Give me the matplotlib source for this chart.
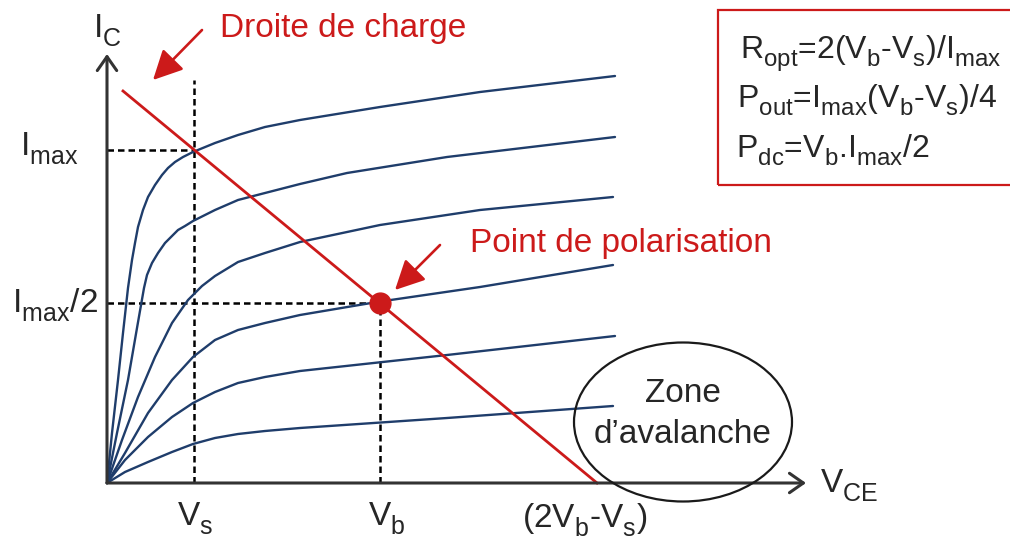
import matplotlib
matplotlib.use("Agg")
import matplotlib.pyplot as plt
import matplotlib._mathtext as _mt
from matplotlib.patches import Ellipse, Rectangle, FancyArrowPatch

_mt.SHRINK_FACTOR = 0.75
_mt.FontConstantsBase.sub1 = 0.5

plt.rcParams['font.family'] = ['Liberation Sans', 'DejaVu Sans']
plt.rcParams['mathtext.fontset'] = 'custom'
plt.rcParams['mathtext.rm'] = 'Liberation Sans'
plt.rcParams['mathtext.it'] = 'Liberation Sans:italic'
plt.rcParams['mathtext.bf'] = 'Liberation Sans:bold'

# ---- data (diagram units: origin at the axes corner) ----
V_s = 87
V_b = 273
V_end = 490          # (2Vb - Vs) point on axis
I_max = 333
I_half = 180
load_start = (16, 392)

curve1_x = [0, 5, 11, 16, 21, 25, 28, 31, 36, 41, 48, 55, 61, 68, 76, 86, 108, 131, 158, 193, 273, 373, 508]
curve1_y = [0, 50, 103, 150, 195, 223, 240, 256, 273, 286, 298, 308, 315, 321, 326, 331, 340, 348, 356, 363, 376, 391, 407]
curve2_x = [0, 10, 21, 30, 37, 40, 45, 51, 58, 65, 71, 78, 86, 108, 131, 158, 193, 240, 340, 508]
curve2_y = [0, 50, 103, 155, 195, 208, 220, 230, 240, 247, 253, 257, 262, 273, 283, 290, 299, 310, 326, 346]
curve3_x = [0, 15, 31, 48, 65, 81, 95, 108, 131, 158, 193, 273, 373, 506]
curve3_y = [0, 43, 86, 126, 160, 183, 197, 207, 221, 230, 241, 258, 273, 286]
curve4_x = [0, 18, 41, 65, 86, 108, 131, 158, 193, 270, 373, 506]
curve4_y = [0, 30, 70, 103, 126, 143, 153, 160, 168, 181, 196, 218]
curve5_x = [0, 18, 41, 65, 86, 108, 131, 158, 193, 340, 508]
curve5_y = [0, 23, 46, 66, 80, 91, 100, 106, 112, 128, 147]
curve6_x = [0, 18, 41, 65, 86, 108, 131, 158, 193, 340, 506]
curve6_y = [0, 11, 21, 31, 39, 45, 49, 52, 55, 65, 77]
curves = [(curve1_x, curve1_y), (curve2_x, curve2_y), (curve3_x, curve3_y),
          (curve4_x, curve4_y), (curve5_x, curve5_y), (curve6_x, curve6_y)]

BLUE = '#1f3d6b'
RED = '#cc1a1a'
DARK = '#262626'
AXC = '#333333'
FS = 24
FS_EQ = 23

fig = plt.figure(figsize=(10.10, 5.36), dpi=100)
ax = fig.add_axes([0, 0, 1, 1])
ax.set_xlim(-107, 903)
ax.set_ylim(-53, 483)
ax.axis('off')

# characteristic curves
for cx, cy in curves:
    ax.plot(cx, cy, color=BLUE, lw=1.7, solid_capstyle='round', solid_joinstyle='round', zorder=3)

# dashed guides
dash = dict(color='black', lw=1.8, ls=(0, (2.6, 1.6)), zorder=2)
ax.plot([0, V_s], [I_max, I_max], **dash)
ax.plot([V_s, V_s], [0, 403], **dash)
ax.plot([0, V_b], [I_half, I_half], **dash)
ax.plot([V_b, V_b], [0, I_half], **dash)

# load line
ax.plot([load_start[0], V_end], [load_start[1], 0], color=RED, lw=2.0, zorder=4)
ax.plot([V_b], [I_half], 'o', color=RED, ms=15, zorder=5)

# axes with open arrowheads
ax.add_patch(FancyArrowPatch((0, 0), (0, 429), arrowstyle='->,head_length=0.5,head_width=0.35',
                             mutation_scale=20, color=AXC, lw=2.2, zorder=6, shrinkA=0, shrinkB=0))
ax.add_patch(FancyArrowPatch((0, 0), (699, 0), arrowstyle='->,head_length=0.5,head_width=0.35',
                             mutation_scale=20, color=AXC, lw=2.2, zorder=6, shrinkA=0, shrinkB=0))

# red arrows
ax.add_patch(FancyArrowPatch((95, 453), (46, 403), arrowstyle='-|>,head_length=0.9,head_width=0.45',
                             mutation_scale=20, color=RED, lw=1.9, shrinkA=0, shrinkB=0))
ax.add_patch(FancyArrowPatch((333, 238), (288, 193), arrowstyle='-|>,head_length=0.9,head_width=0.45',
                             mutation_scale=20, color=RED, lw=1.9, shrinkA=0, shrinkB=0))

# ellipse
ax.add_patch(Ellipse((576, 61), 218, 159, fill=False, ec='#1a1a1a', lw=1.6, zorder=7))

# equation box
ax.add_patch(Rectangle((611, 298), 320, 175, fill=False, ec=RED, lw=1.6))

# texts
ax.text(-14, 446, r'I$_\mathrm{C}$', fontsize=FS, color=DARK, va='baseline')
ax.text(-87, 328, r'I$_\mathrm{max}$', fontsize=FS, color=DARK, va='baseline')
ax.text(-95, 171, r'I$_\mathrm{max}$/2', fontsize=FS, color=DARK, va='baseline')
ax.text(70, -42, r'V$_\mathrm{s}$', fontsize=FS, color=DARK, va='baseline')
ax.text(261, -42, r'V$_\mathrm{b}$', fontsize=FS, color=DARK, va='baseline')
ax.text(415, -44, r'(2V$_\mathrm{b}$-V$_\mathrm{s}$)', fontsize=FS, color=DARK, va='baseline')
ax.text(713, -9, r'V$_\mathrm{CE}$', fontsize=FS, color=DARK, va='baseline')
ax.text(576, 81, 'Zone', fontsize=FS, color=DARK, va='baseline', ha='center', zorder=8)
ax.text(576, 40, 'd\u2019avalanche', fontsize=FS, color=DARK, va='baseline', ha='center', zorder=8)
ax.text(113, 446, 'Droite de charge', fontsize=FS, color=RED, va='baseline')
ax.text(363, 231, 'Point de polarisation', fontsize=FS, color=RED, va='baseline')
ax.text(633, 425, r'R$_\mathrm{opt}$=2(V$_\mathrm{b}$-V$_\mathrm{s}$)/I$_\mathrm{max}$', fontsize=FS_EQ, color=DARK, va='baseline')
ax.text(630, 375, r'P$_\mathrm{out}$=I$_\mathrm{max}$(V$_\mathrm{b}$-V$_\mathrm{s}$)/4', fontsize=FS_EQ, color=DARK, va='baseline')
ax.text(629, 326, r'P$_\mathrm{dc}$=V$_\mathrm{b}$.I$_\mathrm{max}$/2', fontsize=FS_EQ, color=DARK, va='baseline')

fig.savefig('out.png', dpi=100)
